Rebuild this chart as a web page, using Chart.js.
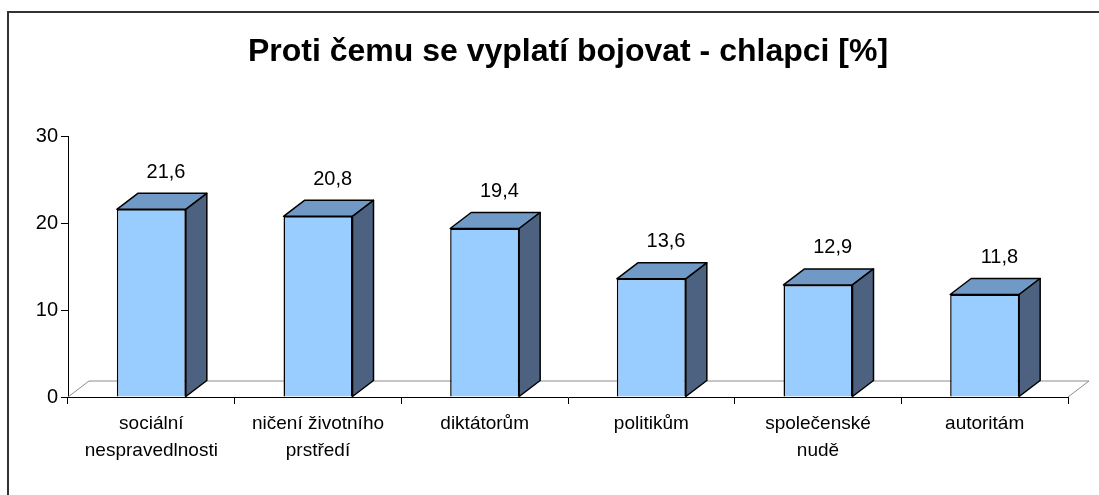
<!DOCTYPE html>
<html>
<head>
<meta charset="utf-8">
<script src="https://cdn.jsdelivr.net/npm/chart.js@4.4.0/dist/chart.umd.min.js"></script>
<style>
  body { margin: 0; background: #fff; }
</style>
</head>
<body>
<canvas id="barChart" width="1099" height="495"></canvas>
<script>
// Proti čemu se vyplatí bojovat - chlapci

const titleText = 'Proti čemu se vyplatí bojovat - chlapci [%]';
const categories = [
  ['sociální', 'nespravedlnosti'],
  ['ničení životního', 'prstředí'],
  'diktátorům',
  'politikům',
  ['společenské', 'nudě'],
  'autoritám'
];
const values = [21.6, 20.8, 19.4, 13.6, 12.9, 11.8];
const yTicks = [0, 10, 20, 30];

const FONT = "'Liberation Sans', Arial, sans-serif";
const DX = 21;  // hloubka 3D
const DY = -16;

// rámeček kolem celého grafu
const framePlugin = {
  id: 'frame',
  beforeDraw(chart) {
    const ctx = chart.ctx;
    ctx.save();
    ctx.strokeStyle = '#333';
    ctx.lineWidth = 2;
    ctx.strokeRect(8, 12, 1200, 600);
    ctx.restore();
  }
};

// podlaha 3D
const floorPlugin = {
  id: 'floor',
  beforeDatasetsDraw(chart) {
    const ctx = chart.ctx;
    const a = chart.chartArea;
    ctx.save();
    ctx.strokeStyle = '#8c8c8c';
    ctx.lineWidth = 1;
    ctx.beginPath();
    ctx.moveTo(a.left, a.bottom);
    ctx.lineTo(a.left + DX, a.bottom + DY);
    ctx.lineTo(a.right + DX, a.bottom + DY);
    ctx.lineTo(a.right, a.bottom);
    ctx.stroke();
    ctx.restore();
  }
};

// horní a boční stěna sloupců + popisky hodnot
const boxPlugin = {
  id: 'box3d',
  afterDatasetsDraw(chart) {
    const ctx = chart.ctx;
    const meta = chart.getDatasetMeta(0);
    ctx.save();
    ctx.lineWidth = 1.5;
    ctx.strokeStyle = '#000';
    ctx.lineJoin = 'round';
    meta.data.forEach((bar, i) => {
      const p = bar.getProps(['x', 'y', 'base', 'width'], true);
      const l = p.x - p.width / 2;
      const r = p.x + p.width / 2;
      const t = p.y;
      const b = p.base;
      // horní stěna
      ctx.beginPath();
      ctx.moveTo(l, t);
      ctx.lineTo(l + DX, t + DY);
      ctx.lineTo(r + DX, t + DY);
      ctx.lineTo(r, t);
      ctx.closePath();
      ctx.fillStyle = '#7199c5';
      ctx.fill();
      ctx.stroke();
      // boční stěna
      ctx.beginPath();
      ctx.moveTo(r, t);
      ctx.lineTo(r + DX, t + DY);
      ctx.lineTo(r + DX, b + DY);
      ctx.lineTo(r, b);
      ctx.closePath();
      ctx.fillStyle = '#4d6180';
      ctx.fill();
      ctx.stroke();
      // hodnota
      ctx.fillStyle = '#000';
      ctx.font = '20px ' + FONT;
      ctx.textAlign = 'center';
      ctx.textBaseline = 'middle';
      ctx.fillText(String(values[i]).replace('.', ','), p.x + DX * 0.7, t + DY - 21);
    });
    ctx.restore();
  }
};

let ctx = document.getElementById('barChart').getContext('2d');
window.barChart = new Chart(ctx, {
  type: 'bar',
  data: {
    labels: categories,
    datasets: [{
      data: values,
      backgroundColor: '#99ccff',
      borderColor: '#000',
      borderWidth: 1.5,
      barPercentage: 0.414,
      categoryPercentage: 1
    }]
  },
  options: {
    responsive: false,
    animation: false,
    layout: { padding: { left: 0, right: 31, top: 0, bottom: 0 } },
    plugins: {
      legend: { display: false },
      tooltip: { enabled: false },
      title: {
        display: true,
        text: titleText,
        fullSize: false,
        color: '#000',
        font: { family: FONT, size: 32, weight: 'bold', lineHeight: 1.2 },
        padding: { top: 33, bottom: 65 }
      }
    },
    scales: {
      x: {
        afterFit(scale) { scale.height = 98; },
        grid: { offset: true, drawOnChartArea: false, tickLength: 7, color: '#000' },
        border: { color: '#000', width: 1 },
        ticks: {
          color: '#000',
          padding: 6,
          maxRotation: 0,
          autoSkip: false,
          font: { family: FONT, size: 19, lineHeight: 1.42 }
        }
      },
      y: {
        min: 0,
        max: 30,
        afterFit(scale) { scale.width = 68; },
        afterBuildTicks(scale) { scale.ticks = yTicks.map(v => ({ value: v })); },
        grid: { drawOnChartArea: false, tickLength: 7, color: '#000' },
        border: { color: '#000', width: 1 },
        ticks: {
          color: '#000',
          padding: 3,
          font: { family: FONT, size: 20 }
        }
      }
    }
  },
  plugins: [framePlugin, floorPlugin, boxPlugin]
});
</script>
</body>
</html>
